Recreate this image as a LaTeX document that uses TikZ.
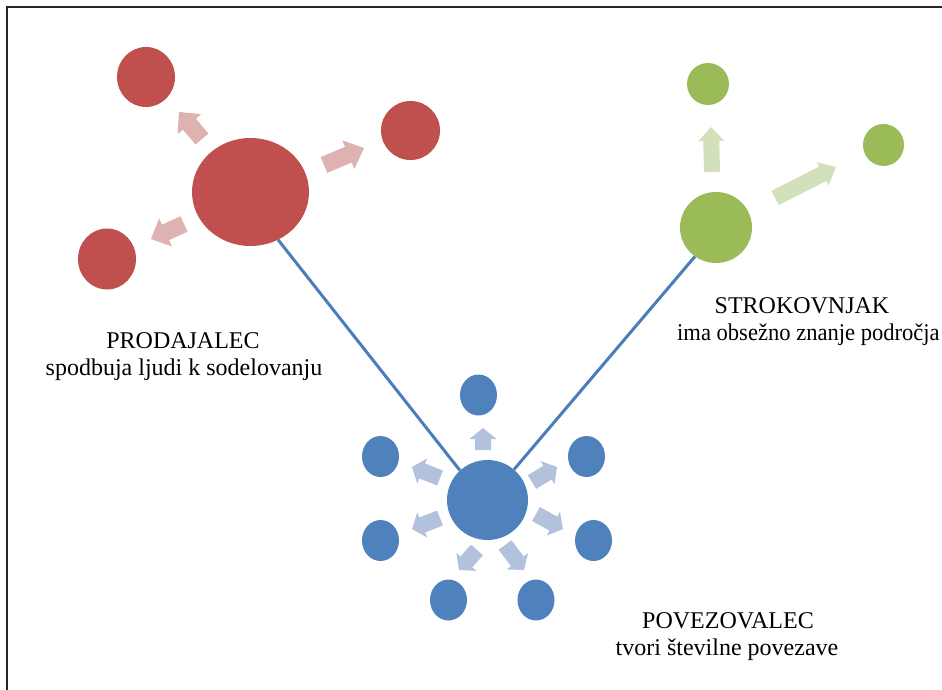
\documentclass[tikz,border=0pt]{standalone}
\usepackage{fontspec}
\setmainfont{Liberation Serif}
\usetikzlibrary{shapes.geometric,calc}
\definecolor{redM}{HTML}{C0504D}
\definecolor{greenM}{HTML}{9BBB59}
\definecolor{blueM}{HTML}{4F81BD}
\definecolor{redP}{HTML}{DDB2B1}
\definecolor{greenP}{HTML}{D3E0BC}
\definecolor{blueP}{HTML}{B2C2DD}
\definecolor{lineB}{HTML}{4A7EBB}
\tikzset{
  dot/.style={ellipse, inner sep=0pt, draw=none},
  reddot/.style={dot, fill=redM},
  greendot/.style={dot, fill=greenM},
  bluedot/.style={dot, fill=blueM},
  bsmall/.style={bluedot, minimum width=37pt, minimum height=41pt},
  lbl/.style={anchor=base, inner sep=0pt, font=\fontsize{24}{28}\selectfont},
  link/.style={draw=lineB, line width=3pt},
}
% #1 colour, #2 base, #3 tip, #4 shaft half width, #5 head half width, #6 head length
\newcommand{\fatarrow}[6]{%
  \coordinate (hh) at ($(#3)!#6!(#2)$);
  \fill[#1] ($(#2)!#4!90:(#3)$) -- ($(hh)!#4!-90:(#2)$) -- ($(hh)!#5!-90:(#2)$) -- (#3)
     -- ($(hh)!#5!90:(#2)$) -- ($(hh)!#4!90:(#2)$) -- ($(#2)!#4!-90:(#3)$) -- cycle;
}
\begin{document}
\begin{tikzpicture}[x=1pt,y=-1pt]
\useasboundingbox (0,0) rectangle (942,690);
\fill[white] (0,0) rectangle (942,690);
\draw[line width=2.5pt, black!85] (7,700) -- (7,7) -- (950,7);

% red cluster
\node[reddot, minimum width=117pt, minimum height=108pt] (rB) at (250.5,192) {};
\node[reddot, minimum width=58pt, minimum height=60pt] (rTL) at (146,77) {};
\node[reddot, minimum width=59pt, minimum height=59pt] (rR) at (410.5,130.5) {};
\node[reddot, minimum width=58pt, minimum height=61pt] (rBL) at (107,259) {};
\coordinate (ra1) at (202,139); \coordinate (ra1t) at (179,112);
\coordinate (ra2) at (324,165); \coordinate (ra2t) at (364,148);
\coordinate (ra3) at (184,224); \coordinate (ra3t) at (151,239);
\fatarrow{redP}{ra1}{ra1t}{8.5pt}{15.5pt}{16pt}
\fatarrow{redP}{ra2}{ra2t}{8.5pt}{15.5pt}{17pt}
\fatarrow{redP}{ra3}{ra3t}{8.5pt}{15.5pt}{16pt}

% green cluster
\node[greendot, minimum width=72pt, minimum height=71pt] (gB) at (716,227.5) {};
\node[greendot, minimum width=42pt, minimum height=42pt] (gT) at (708,84) {};
\node[greendot, minimum width=41pt, minimum height=42pt] (gR) at (883.5,145) {};
\coordinate (ga1) at (712,172); \coordinate (ga1t) at (711,127);
\coordinate (ga2) at (775,198); \coordinate (ga2t) at (836,167);
\fatarrow{greenP}{ga1}{ga1t}{8pt}{13pt}{14pt}
\fatarrow{greenP}{ga2}{ga2t}{8pt}{13pt}{15pt}

% blue cluster
\node[bluedot, minimum width=81pt, minimum height=80pt] (bB) at (487.5,500) {};
\node[bsmall] (bT) at (478.5,395) {};
\node[bsmall] (bUL) at (380.5,456.5) {};
\node[bsmall] (bUR) at (586.5,456.5) {};
\node[bsmall] (bLL) at (380.5,540.5) {};
\node[bsmall] (bLR) at (593.5,540.5) {};
\node[bsmall] (bBL) at (448.5,600) {};
\node[bsmall] (bBR) at (536,600) {};
\coordinate (ba1) at (483,450); \coordinate (ba1t) at (483,428);
\coordinate (ba2) at (440,478); \coordinate (ba2t) at (412,467);
\coordinate (ba3) at (532,482); \coordinate (ba3t) at (557,467);
\coordinate (ba4) at (440,518); \coordinate (ba4t) at (412,529);
\coordinate (ba5) at (536,514); \coordinate (ba5t) at (563,529);
\coordinate (ba6) at (477,550); \coordinate (ba6t) at (459,570);
\coordinate (ba7) at (505,545); \coordinate (ba7t) at (524,570);
\foreach \a in {ba1,ba2,ba3,ba4,ba5,ba6,ba7}{\fatarrow{blueP}{\a}{\a t}{8pt}{13.5pt}{11pt}}

% connectors
\draw[link] (bB.133) -- (rB.-60);
\draw[link] (bB.49) -- (gB.-126);

% labels
\node[lbl] (prodT) at (183,348) {PRODAJALEC};
\node[lbl] (prodD) at (184,375) {spodbuja ljudi k sodelovanju};
\node[lbl] (strT) at (802,313) {STROKOVNJAK};
\node[lbl, anchor=base west] (strD) at (677,340) {\scalebox{0.94}[1]{ima obsežno znanje področja}};
\node[lbl] (povT) at (728,628) {POVEZOVALEC};
\node[lbl] (povD) at (727,655) {tvori številne povezave};
\end{tikzpicture}
\end{document}
